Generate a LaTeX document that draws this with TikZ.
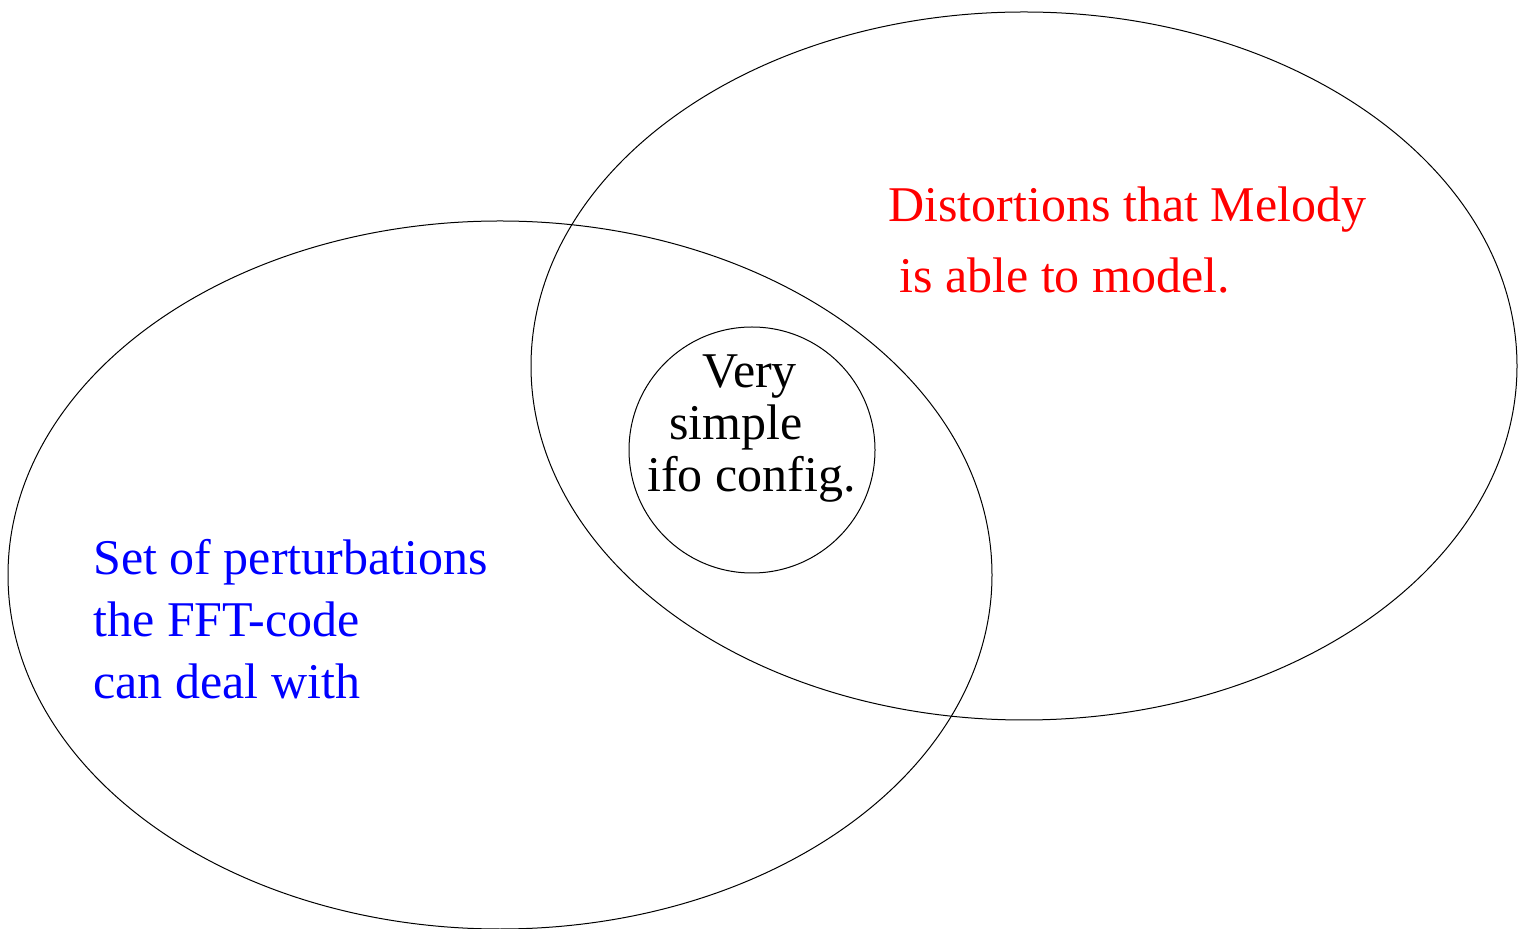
\documentclass[tikz,border=0pt]{standalone}
\usepackage{fontspec}
\setmainfont{Liberation Serif}
\begin{document}
\begin{tikzpicture}[
  x=0.5pt,y=-0.5pt,
  set/.style={draw=black,line width=0.5pt},
  txt/.style={anchor=base west,inner sep=0pt,font=\fontsize{25}{30}\selectfont},
  tred/.style={txt,text=red},
  tblue/.style={txt,text=blue},
  tblack/.style={txt,text=black}
]
\useasboundingbox (0,0) rectangle (1526,929);

% the three sets
\draw[set] (500,575) ellipse [x radius=492,y radius=354];
\draw[set] (1024,366) ellipse [x radius=493,y radius=354];
\draw[set] (752,450) circle [radius=123];

% labels
\foreach \i/\x/\y/\t in {1/888/222/Distortions that Melody,2/899/293/is able to model.}{
  \node[tred] (melody\i) at (\x,\y) {\t};
}
\foreach \i/\y/\t in {1/575/Set of perturbations,2/637/the FFT-code,3/699/can deal with}{
  \node[tblue] (fft\i) at (93,\y) {\t};
}
\foreach \i/\x/\y/\t in {1/702/388/Very,2/669/440/simple,3/647/492/ifo config.}{
  \node[tblack] (ifo\i) at (\x,\y) {\t};
}

\end{tikzpicture}
\end{document}
